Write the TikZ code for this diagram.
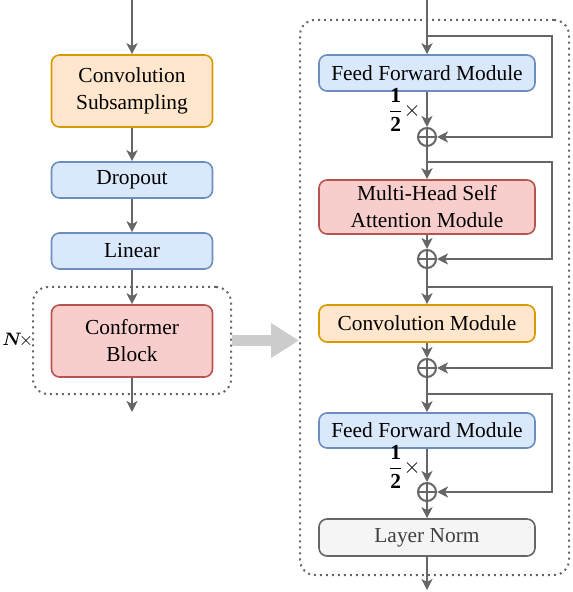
\documentclass[tikz,border=0pt]{standalone}
\usepackage{amsmath}
\usepackage{fontspec}
\setmainfont{Liberation Serif}
\usetikzlibrary{arrows.meta}
\definecolor{linegray}{HTML}{666666}
\definecolor{arrgray}{HTML}{CCCCCC}
\definecolor{orfill}{HTML}{FFE6CC}\definecolor{ordraw}{HTML}{D79B00}
\definecolor{blfill}{HTML}{DAE8FC}\definecolor{bldraw}{HTML}{6C8EBF}
\definecolor{rdfill}{HTML}{F8CECC}\definecolor{rddraw}{HTML}{B85450}
\definecolor{gyfill}{HTML}{F5F5F5}\definecolor{gydraw}{HTML}{666666}

\begin{document}
\begin{tikzpicture}[x=0.5pt,y=-0.5pt,
    box/.style={rounded corners=4pt,line width=0.8pt,align=center,inner sep=0pt,
        font=\fontsize{10.7pt}{13.5pt}\selectfont},
    lbox/.style={box,minimum width=80.5pt},
    rbox/.style={box,minimum width=108pt},
    orange/.style={fill=orfill,draw=ordraw},
    blue/.style={fill=blfill,draw=bldraw},
    red/.style={fill=rdfill,draw=rddraw},
    gray/.style={fill=gyfill,draw=gydraw},
    arr/.style={draw=linegray,line width=1pt,-{Stealth[length=5.5pt,width=5.5pt,inset=1.5pt]}},
    addnode/.style={circle,draw=linegray,line width=1pt,fill=white,inner sep=0pt,minimum size=9pt,
        path picture={\draw[linegray,line width=1pt]
            (path picture bounding box.north)--(path picture bounding box.south)
            (path picture bounding box.west)--(path picture bounding box.east);}},
    dotbox/.style={draw=linegray,line width=1pt,dash pattern=on 1pt off 2pt,rounded corners=7.5pt,inner sep=0pt},
    half/.style={anchor=east,inner sep=0pt,font=\fontsize{10.7pt}{13pt}\selectfont}]
\useasboundingbox (0,0) rectangle (572,592);

% left column
\node[dotbox,minimum width=99pt,minimum height=53.5pt] (blockN) at (132,340.5) {};
\node[lbox,orange,minimum height=36pt] (subsamp) at (132,91) {Convolution\\Subsampling};
\node[lbox,blue,minimum height=18pt] (dropout) at (132,180) {Dropout};
\node[lbox,blue,minimum height=18pt] (linear) at (132,251) {Linear};
\node[lbox,red,minimum height=36pt] (conformer) at (132,341) {Conformer\\Block};
\node[anchor=west,inner sep=0pt,font=\fontsize{9pt}{11pt}\selectfont] (ntimes) at (2,340) {$\boldsymbol{N}\!\times$};
\coordinate (inL) at (132,0);
\coordinate (outL) at (132,412);
\draw[arr] (inL)--(subsamp);
\draw[arr] (subsamp)--(dropout);
\draw[arr] (dropout)--(linear);
\draw[arr] (linear)--(conformer);
\draw[arr] (conformer)--(outL);

% right column
\node[dotbox,minimum width=134.5pt,minimum height=277.5pt] (blockR) at (434.5,297.5) {};
\node[rbox,blue,minimum height=18pt] (ffa) at (427,73) {Feed Forward Module};
\node[addnode] (adda) at (427,137) {};
\node[rbox,red,minimum height=27pt] (mhsa) at (427,207) {Multi-Head Self\\Attention Module};
\node[addnode] (addb) at (427,259) {};
\node[rbox,orange,minimum height=18.5pt] (convmod) at (427,323.5) {Convolution Module};
\node[addnode] (addc) at (427,368) {};
\node[rbox,blue,minimum height=17.5pt] (ffb) at (427,430.5) {Feed Forward Module};
\node[addnode] (addd) at (427,492) {};
\node[rbox,gray,minimum height=18.5pt] (lnorm) at (427,537.5) {\color{black!75}Layer Norm};
\node[half] (halfa) at (421,110) {$\dfrac{\mathbf{1}}{\mathbf{2}}\times$};
\node[half] (halfb) at (421,467) {$\dfrac{\mathbf{1}}{\mathbf{2}}\times$};
\coordinate (inR) at (427,0);
\coordinate (outR) at (427,590);
\coordinate (skipa) at (427,36);
\coordinate (skipb) at (427,162);
\coordinate (skipc) at (427,287);
\coordinate (skipd) at (427,394);
\draw[arr] (inR)--(ffa);
\draw[arr] (ffa)--(adda);
\draw[arr] (adda)--(mhsa);
\draw[arr] (mhsa)--(addb);
\draw[arr] (addb)--(convmod);
\draw[arr] (convmod)--(addc);
\draw[arr] (addc)--(ffb);
\draw[arr] (ffb)--(addd);
\draw[arr] (addd)--(lnorm);
\draw[arr] (lnorm)--(outR);
\draw[arr] (skipa)--++(125,0)|-(adda);
\draw[arr] (skipb)--++(125,0)|-(addb);
\draw[arr] (skipc)--++(125,0)|-(addc);
\draw[arr] (skipd)--++(125,0)|-(addd);

% big gray arrow
\draw[arrgray,line width=5.5pt,-{Triangle[length=14pt,width=16.5pt]}] (blockN.east)--(blockN.east-|blockR.west);
\end{tikzpicture}
\end{document}
